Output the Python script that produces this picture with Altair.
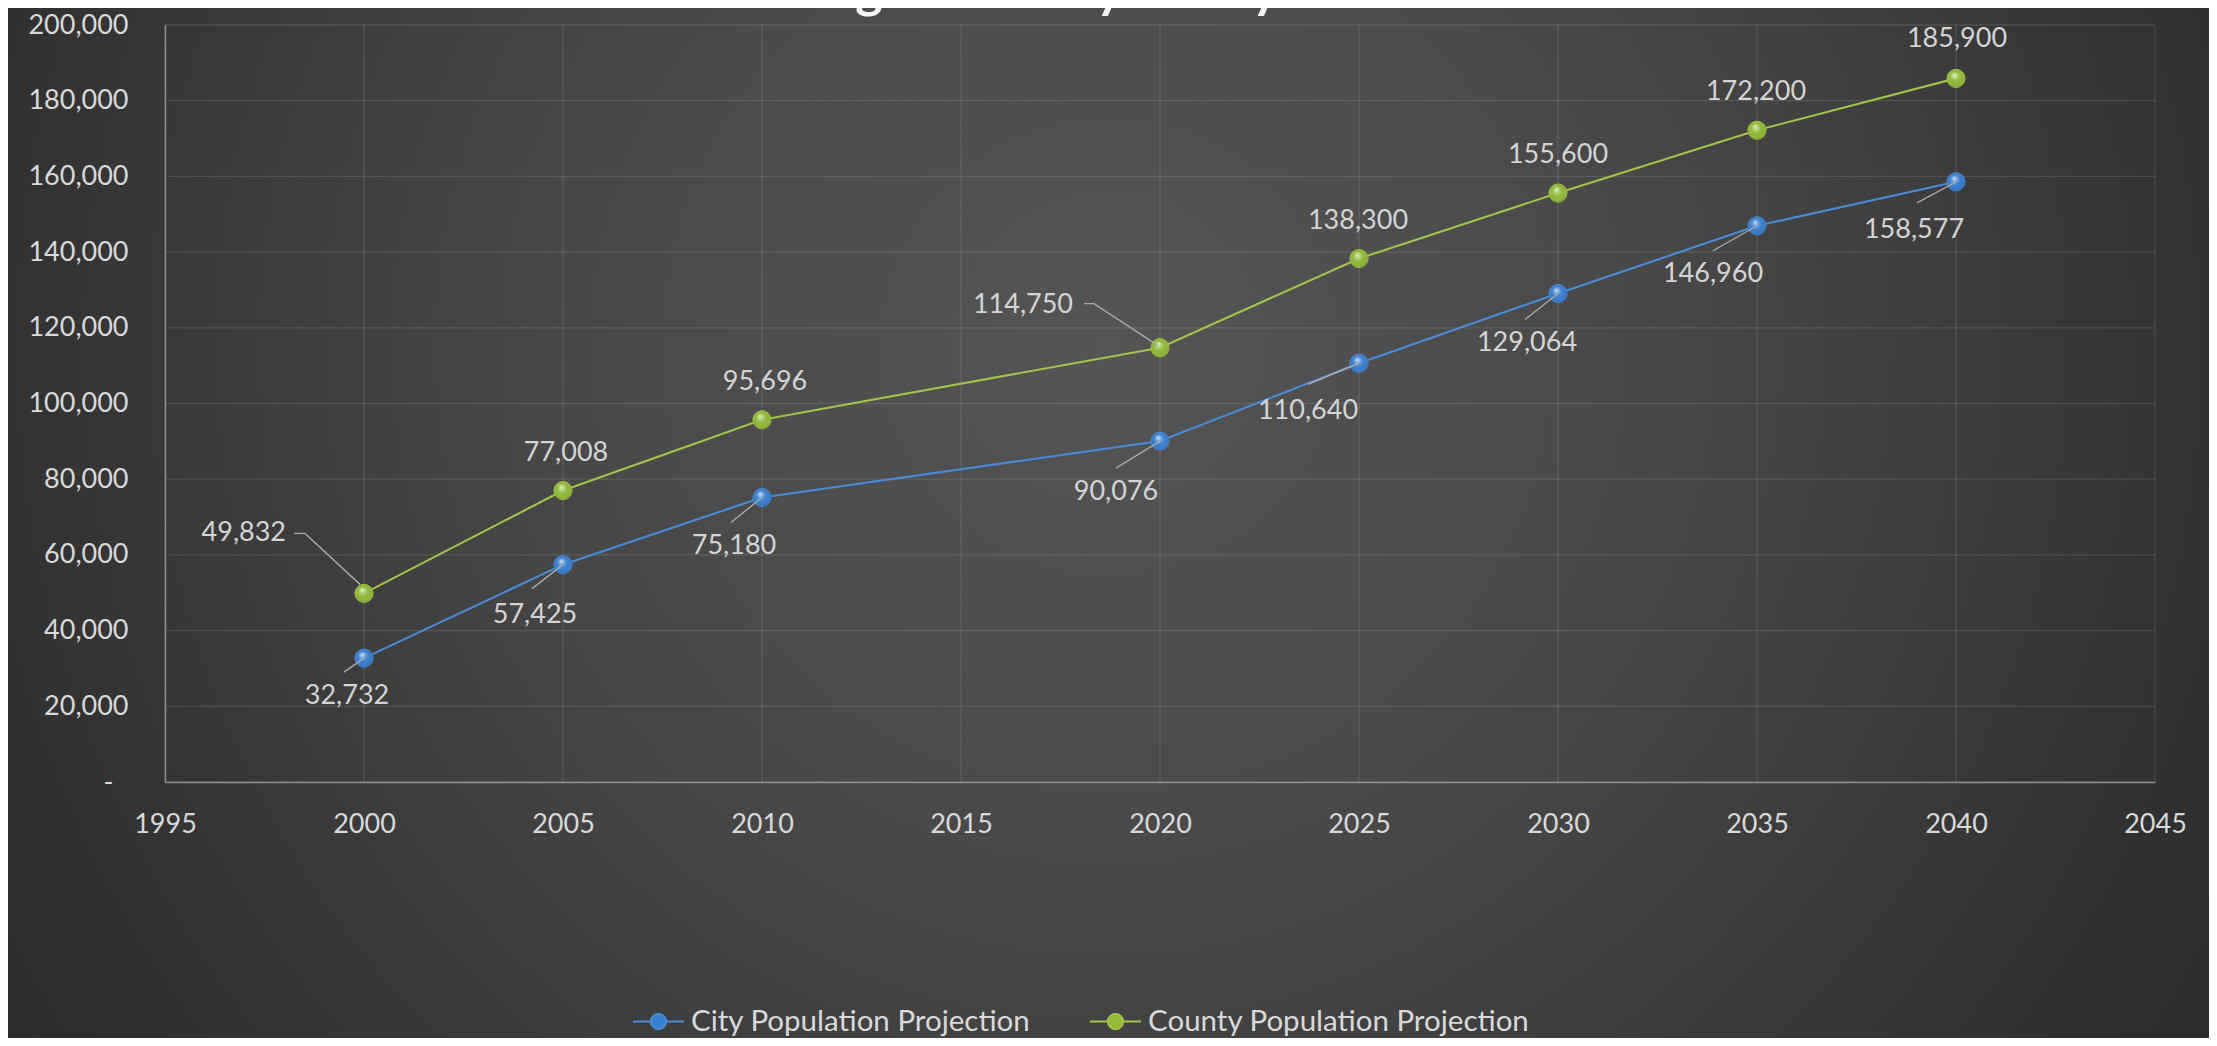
import altair as alt
import pandas as pd

# ---------------- data ----------------
YEARS = [2000, 2005, 2010, 2020, 2025, 2030, 2035, 2040]
CITY = [32732, 57425, 75180, 90076, 110640, 129064, 146960, 158577]
COUNTY = [49832, 77008, 95696, 114750, 138300, 155600, 172200, 185900]
SERIES = ["City Population Projection", "County Population Projection"]
X_TICKS = [1995, 2000, 2005, 2010, 2015, 2020, 2025, 2030, 2035, 2040, 2045]
Y_TICKS = [0, 20000, 40000, 60000, 80000, 100000, 120000, 140000, 160000, 180000, 200000]
TITLE = "Flagler County & City of Palm Coast"

# ---------------- layout / style ----------------
W, H = 1990, 757
PAD = {"left": 157, "top": 17, "right": 54, "bottom": 256}
X_DOMAIN = [1995, 2045]
Y_DOMAIN = [0, 200000]
YR_PER_PX = (X_DOMAIN[1] - X_DOMAIN[0]) / W
VAL_PER_PX = (Y_DOMAIN[1] - Y_DOMAIN[0]) / H

FONT = "Lato"
TEXT = "#d9d9d9"
LINE_COLORS = ["#4a8ad4", "#a2c24a"]
MARKER_COLORS = ["#3a7fd0", "#92bb38"]

# label offsets in pixels relative to the point (dx, dy, align)
CITY_LABEL_OFF = [(-17, 38), (-28, 50), (-28, 49), (-44, 51), (-51, 48), (-31, 50), (-44, 48), (-42, 48)]
COUNTY_LABEL_OFF = [(-78, -60, "right"), (3, -38, "center"), (3, -38, "center"), (-87, -43, "right"),
                    (-1, -38, "center"), (0, -38, "center"), (-1, -38, "center"), (1, -39, "center")]
CITY_LEADER_END = [(-20, 14), (-31, 24), (-31, 25), (-44, 27), (-51, 21), (-33, 26), (-44, 25), (-39, 21)]
COUNTY_LEADERS = {0: [(-70, -60), (-59, -60), (-4, -9)], 3: [(-76, -44), (-66, -44), (-2, -2)]}

# ---------------- tables ----------------
pts = pd.DataFrame(
    [{"series": SERIES[0], "year": y, "value": v} for y, v in zip(YEARS, CITY)]
    + [{"series": SERIES[1], "year": y, "value": v} for y, v in zip(YEARS, COUNTY)]
)

lab_rows = []
for i, (y, v) in enumerate(zip(YEARS, CITY)):
    dx, dy = CITY_LABEL_OFF[i]
    lab_rows.append({"year": y, "value": v, "dx": dx, "dy": dy, "align": "center"})
for i, (y, v) in enumerate(zip(YEARS, COUNTY)):
    dx, dy, al = COUNTY_LABEL_OFF[i]
    lab_rows.append({"year": y, "value": v, "dx": dx, "dy": dy, "align": al})
labels = pd.DataFrame(lab_rows)

lead_rows = []
for i, (y, v) in enumerate(zip(YEARS, CITY)):
    ex, ey = CITY_LEADER_END[i]
    lead_rows.append({"lid": f"c{i}", "k": 0, "year": y, "value": v, "dx": 0, "dy": 0})
    lead_rows.append({"lid": f"c{i}", "k": 1, "year": y, "value": v, "dx": ex, "dy": ey})
for i, segs in COUNTY_LEADERS.items():
    for k, (dx, dy) in enumerate(segs):
        lead_rows.append({"lid": f"k{i}", "k": k, "year": YEARS[i], "value": COUNTY[i], "dx": dx, "dy": dy})
leaders = pd.DataFrame(lead_rows)

grid_x = pd.DataFrame({"t": X_TICKS})
grid_y = pd.DataFrame({"t": Y_TICKS})
one = pd.DataFrame({"k": [0]})

# ---------------- scales / axes ----------------
XS = alt.Scale(domain=X_DOMAIN, nice=False, zero=False)
YS = alt.Scale(domain=Y_DOMAIN, nice=False, zero=True)
XAXIS = alt.Axis(values=X_TICKS, format="d", title=None, grid=False, ticks=False, tickSize=0,
                 labelPadding=42, labelBaseline="middle", labelFont=FONT, labelFontSize=27,
                 labelColor=TEXT, domainColor="#8f8f8f", domainWidth=1.5, zindex=1,
                 labelFlush=False, labelOverlap=False)
YAXIS = alt.Axis(values=Y_TICKS, title=None, grid=False, ticks=False, tickSize=0,
                 labelPadding={"condition": {"test": "datum.value == 0", "value": 52}, "value": 37},
                 labelFont=FONT, labelFontSize=27, labelColor=TEXT,
                 labelExpr="datum.value == 0 ? '-' : format(datum.value, ',')",
                 domainColor="#8f8f8f", domainWidth=1.5, zindex=1, labelFlush=False, labelOverlap=False)


def X(field):
    return alt.X(field, type="quantitative", scale=XS, axis=XAXIS)


def Y(field):
    return alt.Y(field, type="quantitative", scale=YS, axis=YAXIS)


bg_gradient = {
    "gradient": "radial",
    "x1": 0.5, "y1": 0.42, "r1": 0,
    "x2": 0.5, "y2": 0.42, "r2": 0.75,
    "stops": [
        {"offset": 0, "color": "#555555"},
        {"offset": 0.35, "color": "#474747"},
        {"offset": 0.7, "color": "#303030"},
        {"offset": 1, "color": "#262626"},
    ],
}
shine = {
    "gradient": "radial",
    "x1": 0.4, "y1": 0.3, "r1": 0,
    "x2": 0.5, "y2": 0.5, "r2": 0.6,
    "stops": [
        {"offset": 0, "color": "rgba(255,255,255,0.75)"},
        {"offset": 0.35, "color": "rgba(255,255,255,0.15)"},
        {"offset": 0.75, "color": "rgba(0,0,0,0)"},
        {"offset": 1, "color": "rgba(0,0,0,0.35)"},
    ],
}

LEG = alt.Legend(
    title=None, orient="none", direction="horizontal", legendX=467, legendY=970,
    symbolType="M-1,0H-0.3M0.3,0H1M0.3,0A0.3,0.3,0,1,1,-0.3,0A0.3,0.3,0,1,1,0.3,0Z",
    symbolSize=2601, symbolStrokeWidth=2, labelFont=FONT, labelFontSize=29.5, labelColor=TEXT,
    labelOffset=6, columnPadding=55, labelLimit=800, padding=0, symbolOpacity=1, zindex=2,
)
STROKE = alt.Stroke("series:N", scale=alt.Scale(domain=SERIES, range=LINE_COLORS), legend=LEG)
FILL = alt.Color("series:N", scale=alt.Scale(domain=SERIES, range=MARKER_COLORS), legend=LEG)

background = alt.Chart(one).mark_rect(fill=bg_gradient, stroke=None).encode(
    x=alt.value(-PAD["left"]), x2=alt.value(W + PAD["right"]),
    y=alt.value(-PAD["top"]), y2=alt.value(H + PAD["bottom"]),
)

gx = alt.Chart(grid_x).mark_rule(stroke="rgba(255,255,255,0.11)", strokeWidth=1.3).encode(x=X("t"))
gy = alt.Chart(grid_y).mark_rule(stroke="rgba(255,255,255,0.11)", strokeWidth=1.3).encode(y=Y("t"))

lines = alt.Chart(pts).mark_line(strokeWidth=2.1).encode(
    x=X("year"), y=Y("value"), stroke=STROKE, detail="series:N",
)

points = alt.Chart(pts).mark_point(filled=True, size=330, opacity=1, strokeWidth=1).encode(
    x=X("year"), y=Y("value"), color=FILL, stroke=STROKE,
)

gloss = alt.Chart(pts).mark_circle(size=330, opacity=1, fill=shine, stroke=None).encode(
    x=X("year"), y=Y("value"),
)

lead = alt.Chart(leaders).transform_calculate(
    lx=f"datum.year + datum.dx * {YR_PER_PX}",
    ly=f"datum.value - datum.dy * {VAL_PER_PX}",
).mark_line(stroke="#a9a9a9", strokeWidth=1.4).encode(
    x=X("lx"), y=Y("ly"), detail="lid:N", order="k:Q",
)


def label_layer(align):
    return alt.Chart(labels).transform_filter(
        f"datum.align == '{align}'"
    ).transform_calculate(
        lx=f"datum.year + datum.dx * {YR_PER_PX}",
        ly=f"datum.value - datum.dy * {VAL_PER_PX}",
        txt="format(datum.value, ',')",
    ).mark_text(align=align, baseline="middle", font=FONT, fontSize=27, color="#d4d4d4").encode(
        x=X("lx"), y=Y("ly"), text="txt:N",
    )


title = alt.Chart(one).mark_text(
    text=TITLE, font=FONT, fontSize=52, fontWeight="bold", color="#f2f2f2",
    align="center", baseline="alphabetic",
).encode(x=alt.value(1033), y=alt.value(-PAD["top"] - 1))

chart = alt.layer(
    background, gx, gy, lines, points, gloss, lead, label_layer("center"), label_layer("right"), title
).properties(
    width=W, height=H,
    autosize=alt.AutoSizeParams(type="none"),
    padding=PAD,
).configure(
    background="#2c2c2c",
).configure_view(stroke=None)

chart.save("out.html", embed_options={"renderer": "svg", "actions": False})
